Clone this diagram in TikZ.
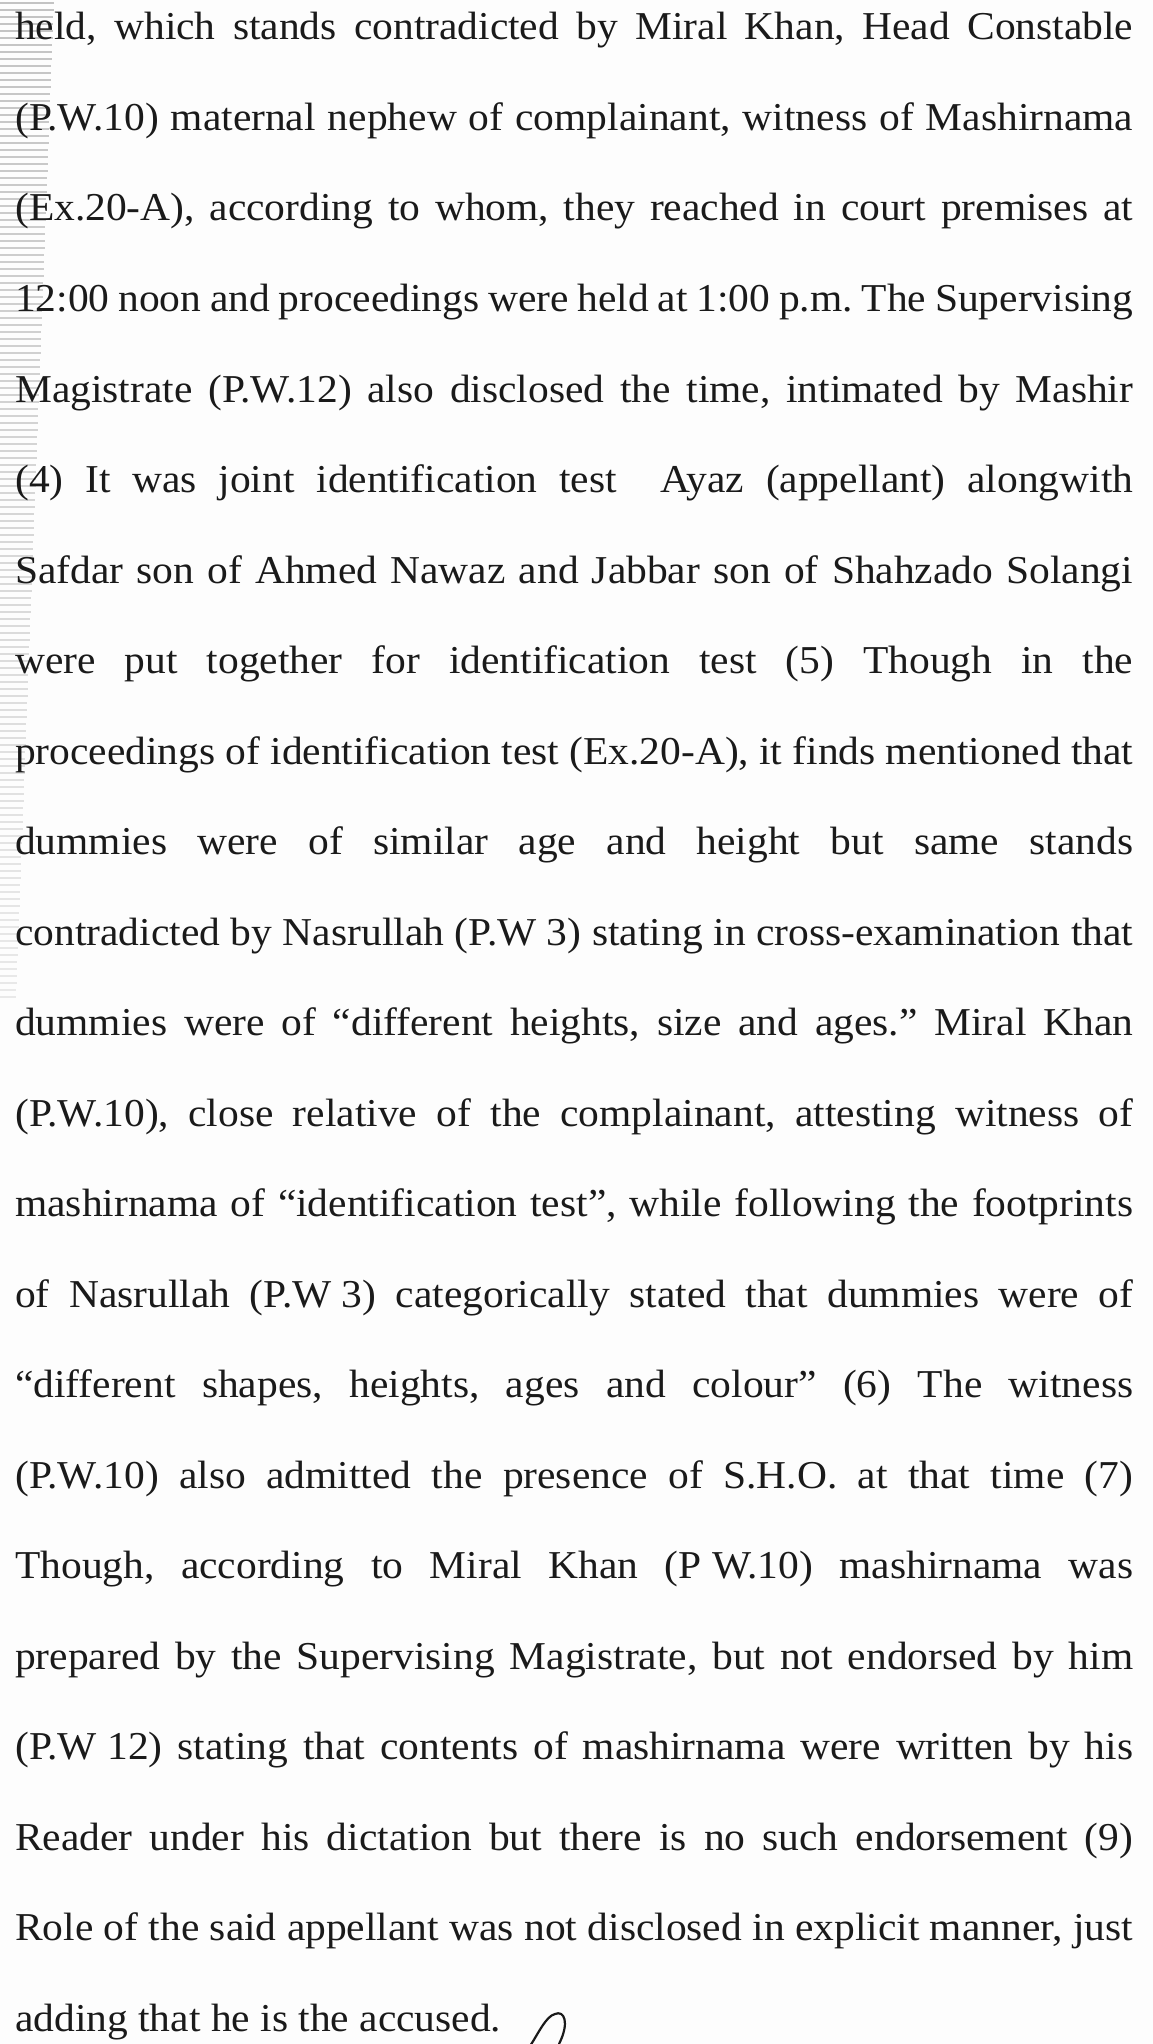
\documentclass[tikz,border=0pt]{standalone}
\usepackage{fontspec}
\setmainfont{Liberation Serif}[FakeStretch=1.05]
\frenchspacing
\definecolor{ink}{HTML}{1A1A1A}
\definecolor{paper}{HTML}{FDFDFD}
\definecolor{scan}{HTML}{BDBDBD}
\newcommand\jline[3]{\node[txtline] (#1) at (15,#2) {\makebox[1118pt][s]{#3}};}
\begin{document}
\begin{tikzpicture}[x=1pt,y=-1pt,
  txtline/.style={anchor=base west, inner sep=0pt, text=ink, font=\fontsize{39.5}{40}\selectfont},
  stripe/.style={draw=scan, line width=2.8pt},
  pen/.style={draw=ink, line width=2.2pt, line cap=round, line join=round}]
\useasboundingbox (0,0) rectangle (1153,2044);
\fill[paper] (0,0) rectangle (1153,2044);
% scanner streaks on the left edge
\foreach \k in {0,...,142} {
  \pgfmathsetmacro\yy{\k*7+3}
  \pgfmathsetmacro\ll{54-0.038*\yy}
  \pgfmathsetmacro\op{0.9-0.0006*\yy}
  \draw[stripe, opacity=\op] (0,\yy) -- (\ll,\yy);
}
\jline{l1}{40}{held, which stands contradicted by Miral Khan, Head Constable}
\jline{l2}{130.5}{(P.W.10) maternal nephew of complainant, witness of Mashirnama}
\jline{l3}{221}{(Ex.20-A), according to whom, they reached in court premises at}
\jline{l4}{311.5}{12:00 noon and proceedings were held at 1:00 p.m. The Supervising}
\jline{l5}{402}{Magistrate (P.W.12) also disclosed the time, intimated by Mashir}
\jline{l6}{492.5}{(4) It was joint identification test \ Ayaz (appellant) alongwith}
\jline{l7}{583}{Safdar son of Ahmed Nawaz and Jabbar son of Shahzado Solangi}
\jline{l8}{673.5}{were put together for identification test (5) Though in the}
\jline{l9}{764}{proceedings of identification test (Ex.20-A), it finds mentioned that}
\jline{l10}{854.5}{dummies were of similar age and height but same stands}
\jline{l11}{945}{contradicted by Nasrullah \mbox{(P.W 3)} stating in cross-examination that}
\jline{l12}{1035.5}{dummies were of “different heights, size and ages.” Miral Khan}
\jline{l13}{1126}{(P.W.10), close relative of the complainant, attesting witness of}
\jline{l14}{1216.5}{mashirnama of “identification test”, while following the footprints}
\jline{l15}{1307}{of Nasrullah \mbox{(P.W 3)} categorically stated that dummies were of}
\jline{l16}{1397.5}{“different shapes, heights, ages and colour” (6) The witness}
\jline{l17}{1488}{(P.W.10) also admitted the presence of S.H.O. at that time (7)}
\jline{l18}{1578.5}{Though, according to Miral Khan \mbox{(P W.10)} mashirnama was}
\jline{l19}{1669}{prepared by the Supervising Magistrate, but not endorsed by him}
\jline{l20}{1759.5}{\mbox{(P.W 12)} stating that contents of mashirnama were written by his}
\jline{l21}{1850}{Reader under his dictation but there is no such endorsement (9)}
\jline{l22}{1940.5}{Role of the said appellant was not disclosed in explicit manner, just}
\node[txtline] (l23) at (15,2031) {adding that he is the accused.};
% initial mark
\coordinate (m0) at (530,2046);
\coordinate (m1) at (555,2014);
\coordinate (m2) at (559,2044);
\draw[pen] (m0) .. controls (538,2034) and (546,2016) .. (m1)
  .. controls (564,2010) and (570,2022) .. (m2);
\end{tikzpicture}
\end{document}
